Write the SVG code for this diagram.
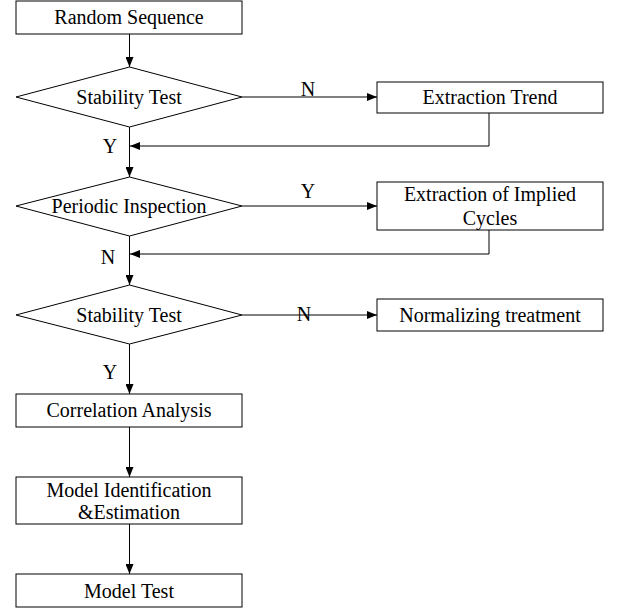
<svg xmlns="http://www.w3.org/2000/svg" width="619" height="609" viewBox="0 0 619 609">
<style>
.b{fill:#fff;stroke:#000;stroke-width:1}
.t{font-family:"Liberation Serif","Times New Roman",serif;font-size:20px;fill:#000;text-anchor:middle}
.c{fill:none;stroke:#000;stroke-width:1}
</style>
<defs>
<marker id="ah" markerWidth="10" markerHeight="8" refX="10" refY="4" orient="auto" markerUnits="userSpaceOnUse">
<path d="M0,0 L10,4 L0,8 Z" fill="#000"/>
</marker>
</defs>
<rect width="619" height="609" fill="#fff"/>
<g id="connectors">
<line class="c" x1="129.5" y1="34" x2="129.5" y2="67" marker-end="url(#ah)"/>
<line class="c" x1="242" y1="97" x2="377" y2="97" marker-end="url(#ah)"/>
<polyline class="c" points="489,113 489,146 130,146" marker-end="url(#ah)"/>
<line class="c" x1="129.5" y1="127" x2="129.5" y2="177" marker-end="url(#ah)"/>
<line class="c" x1="242" y1="206" x2="377" y2="206" marker-end="url(#ah)"/>
<polyline class="c" points="489,230 489,254 130,254" marker-end="url(#ah)"/>
<line class="c" x1="129.5" y1="236" x2="129.5" y2="285" marker-end="url(#ah)"/>
<line class="c" x1="242" y1="315" x2="377" y2="315" marker-end="url(#ah)"/>
<line class="c" x1="129.5" y1="344" x2="129.5" y2="394" marker-end="url(#ah)"/>
<line class="c" x1="129.5" y1="427" x2="129.5" y2="477" marker-end="url(#ah)"/>
<line class="c" x1="129.5" y1="524" x2="129.5" y2="574" marker-end="url(#ah)"/>
<text class="t" x="308" y="96">N</text>
<text class="t" x="110" y="153">Y</text>
<text class="t" x="308" y="198">Y</text>
<text class="t" x="108" y="264">N</text>
<text class="t" x="304" y="321">N</text>
<text class="t" x="110" y="379">Y</text>
</g>
<g id="random">
<rect class="b" x="16" y="1" width="226" height="33"/>
<text class="t" x="129" y="24">Random Sequence</text>
</g>
<g id="stab1">
<polygon class="b" points="16,97 129.5,67 242,97 129.5,127"/>
<text class="t" x="129" y="104">Stability Test</text>
</g>
<g id="trend">
<rect class="b" x="377" y="82" width="226" height="31"/>
<text class="t" x="490" y="104">Extraction Trend</text>
</g>
<g id="periodic">
<polygon class="b" points="16,206 129.5,177 242,206 129.5,236"/>
<text class="t" x="129" y="213">Periodic Inspection</text>
</g>
<g id="cycles">
<rect class="b" x="377" y="182" width="226" height="48"/>
<text class="t" x="490" y="201">Extraction of Implied</text>
<text class="t" x="490" y="225">Cycles</text>
</g>
<g id="stab2">
<polygon class="b" points="16,315 129.5,285 242,315 129.5,344"/>
<text class="t" x="129" y="322">Stability Test</text>
</g>
<g id="normal">
<rect class="b" x="377" y="299" width="226" height="32"/>
<text class="t" x="490" y="322">Normalizing treatment</text>
</g>
<g id="corr">
<rect class="b" x="16" y="394" width="226" height="33"/>
<text class="t" x="129" y="417">Correlation Analysis</text>
</g>
<g id="ident">
<rect class="b" x="16" y="477" width="226" height="47"/>
<text class="t" x="129" y="497">Model Identification</text>
<text class="t" x="129" y="519">&amp;Estimation</text>
</g>
<g id="test">
<rect class="b" x="16" y="574" width="226" height="33"/>
<text class="t" x="129" y="598">Model Test</text>
</g>
</svg>
